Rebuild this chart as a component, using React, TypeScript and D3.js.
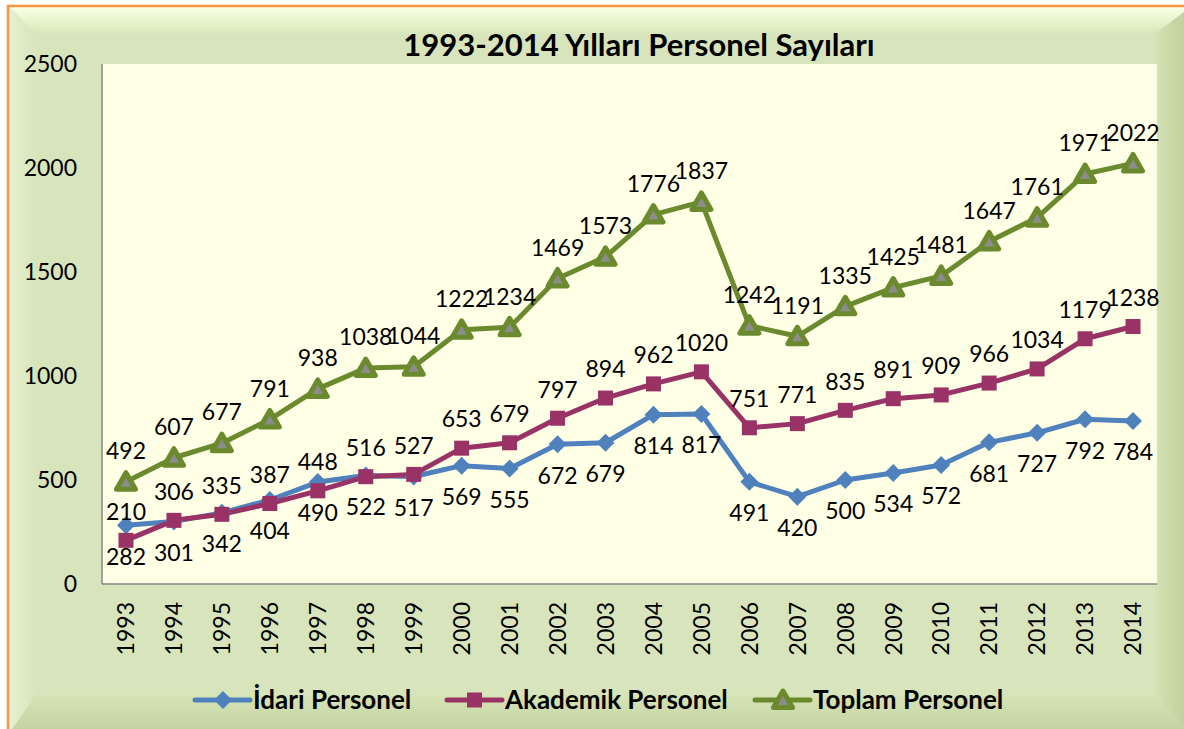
import * as d3 from 'd3'

const years = ['1993', '1994', '1995', '1996', '1997', '1998', '1999', '2000', '2001', '2002', '2003',
  '2004', '2005', '2006', '2007', '2008', '2009', '2010', '2011', '2012', '2013', '2014']
const idari = [282, 301, 342, 404, 490, 522, 517, 569, 555, 672, 679, 814, 817, 491, 420, 500, 534, 572, 681, 727, 792, 784]
const akademik = [210, 306, 335, 387, 448, 516, 527, 653, 679, 797, 894, 962, 1020, 751, 771, 835, 891, 909, 966, 1034, 1179, 1238]
const toplam = [492, 607, 677, 791, 938, 1038, 1044, 1222, 1234, 1469, 1573, 1776, 1837, 1242, 1191, 1335, 1425, 1481, 1647, 1761, 1971, 2022]
const yTicks = [0, 500, 1000, 1500, 2000, 2500]
const seriesNames = ['İdari Personel', 'Akademik Personel', 'Toplam Personel']

const W = 1184
const H = 729
const plot = { left: 102, right: 1157, top: 64, bottom: 584 }
const font = 'Lato, "Open Sans", sans-serif'

const BLUE = '#4f81bd'
const MAROON = '#993366'
const OLIVE = '#6b8a2e'

export default function App() {
  const x = d3.scaleBand<string>().domain(years).range([plot.left, plot.right])
  const y = d3.scaleLinear().domain([0, 2500]).range([plot.bottom, plot.top])
  const cx = (yr: string) => (x(yr) ?? 0) + x.bandwidth() / 2

  const line = (vals: number[]) =>
    d3.line<number>().x((_, i) => cx(years[i])).y((v) => y(v))(vals) || ''

  // frame geometry
  const o = { l: 8, t: 6, r: 1192, b: 735 }
  const i = { l: 36, t: 34, r: 1155, b: 695 }

  const diamond = (px: number, py: number, s: number) =>
    `M${px},${py - s}L${px + s},${py}L${px},${py + s}L${px - s},${py}Z`
  const tri = (px: number, py: number, s: number) =>
    `M${px},${py - s}L${px + s * 0.95},${py + s * 0.65}L${px - s * 0.95},${py + s * 0.65}Z`

  const legendItems = [
    { name: seriesNames[0], color: BLUE, x0: 195, kind: 'diamond' },
    { name: seriesNames[1], color: MAROON, x0: 447, kind: 'square' },
    { name: seriesNames[2], color: OLIVE, x0: 755, kind: 'tri' },
  ]
  const legendY = 700
  const lblSize = 23

  return (
    <svg width={W} height={H} style={{ position: 'fixed', left: 0, top: 0 }} fontFamily={font}>
      <defs>
        <linearGradient id="topBevel" x1="0" y1="0" x2="0" y2="1">
          <stop offset="0" stopColor="#fdffe6" />
          <stop offset="0.5" stopColor="#e9f6cf" />
          <stop offset="1" stopColor="#d8e6bb" />
        </linearGradient>
        <linearGradient id="leftBevel" x1="0" y1="0" x2="1" y2="0">
          <stop offset="0" stopColor="#e6f2d0" />
          <stop offset="1" stopColor="#d8e4bb" />
        </linearGradient>
        <linearGradient id="rightBevel" x1="0" y1="0" x2="1" y2="0">
          <stop offset="0" stopColor="#d4e2b4" />
          <stop offset="1" stopColor="#bccb98" />
        </linearGradient>
        <linearGradient id="bottomBevel" x1="0" y1="0" x2="0" y2="1">
          <stop offset="0" stopColor="#d6e4b6" />
          <stop offset="1" stopColor="#c1d09f" />
        </linearGradient>
      </defs>
      <rect x={0} y={0} width={W} height={H} fill="#ffffff" />
      {/* bevelled frame */}
      <rect x={o.l} y={o.t} width={o.r - o.l} height={o.b - o.t} fill="#d8e4bc" />
      <path d={`M${o.l},${o.t}L${o.r},${o.t}L${i.r},${i.t}L${i.l},${i.t}Z`} fill="url(#topBevel)" />
      <path d={`M${o.l},${o.t}L${i.l},${i.t}L${i.l},${i.b}L${o.l},${o.b}Z`} fill="url(#leftBevel)" />
      <path d={`M${o.r},${o.t}L${o.r},${o.b}L${i.r},${i.b}L${i.r},${i.t}Z`} fill="url(#rightBevel)" />
      <path d={`M${o.l},${o.b}L${i.l},${i.b}L${i.r},${i.b}L${o.r},${o.b}Z`} fill="url(#bottomBevel)" />
      <rect x={o.l} y={o.t} width={o.r - o.l} height={o.b - o.t} fill="none" stroke="#f79646" strokeWidth={2.5} />

      {/* title */}
      <text x={639} y={56} textAnchor="middle" fontSize={31} fontWeight="bold" fill="#000">
        1993-2014 Yılları Personel Sayıları
      </text>

      {/* plot area */}
      <rect x={plot.left} y={plot.top} width={plot.right - plot.left} height={plot.bottom - plot.top} fill="#ffffe6" />
      <line x1={plot.left} x2={plot.left} y1={plot.top} y2={plot.bottom} stroke="#868686" strokeWidth={1.5} />
      <line x1={plot.left} x2={plot.right} y1={plot.bottom} y2={plot.bottom} stroke="#868686" strokeWidth={1.5} />

      {yTicks.map((t) => (
        <text key={t} x={77} y={y(t)} dy="0.36em" textAnchor="end" fontSize={lblSize} fill="#000">
          {t}
        </text>
      ))}
      {years.map((yr) => (
        <text
          key={yr}
          transform={`translate(${cx(yr)},${602}) rotate(-90)`}
          textAnchor="end"
          dy="0.36em"
          fontSize={lblSize}
          fill="#000"
        >
          {yr}
        </text>
      ))}

      {/* lines */}
      <path d={line(idari)} fill="none" stroke={BLUE} strokeWidth={5} strokeLinejoin="round" />
      <path d={line(akademik)} fill="none" stroke={MAROON} strokeWidth={5} strokeLinejoin="round" />
      <path d={line(toplam)} fill="none" stroke={OLIVE} strokeWidth={5} strokeLinejoin="round" />

      {idari.map((v, k) => (
        <path key={'i' + k} d={diamond(cx(years[k]), y(v), 9)} fill={BLUE} />
      ))}
      {akademik.map((v, k) => (
        <rect key={'a' + k} x={cx(years[k]) - 7.5} y={y(v) - 7.5} width={15} height={15} fill={MAROON} />
      ))}
      {toplam.map((v, k) => (
        <path
          key={'t' + k}
          d={tri(cx(years[k]), y(v) + 1, 10)}
          fill="#8c8c8c"
          stroke={OLIVE}
          strokeWidth={5}
          strokeLinejoin="round"
        />
      ))}

      {/* data labels */}
      {idari.map((v, k) => (
        <text key={'li' + k} x={cx(years[k])} y={y(v) + 31} dy="0.36em" textAnchor="middle" fontSize={lblSize} fill="#000">
          {v}
        </text>
      ))}
      {akademik.map((v, k) => (
        <text key={'la' + k} x={cx(years[k])} y={y(v) - 29} dy="0.36em" textAnchor="middle" fontSize={lblSize} fill="#000">
          {v}
        </text>
      ))}
      {toplam.map((v, k) => (
        <text key={'lt' + k} x={cx(years[k])} y={y(v) - 31} dy="0.36em" textAnchor="middle" fontSize={lblSize} fill="#000">
          {v}
        </text>
      ))}

      {/* legend */}
      {legendItems.map((it) => (
        <g key={it.name}>
          <line x1={it.x0} x2={it.x0 + 55} y1={legendY} y2={legendY} stroke={it.color} strokeWidth={5} strokeLinecap="round" />
          {it.kind === 'diamond' && <path d={diamond(it.x0 + 28, legendY, 9)} fill={it.color} />}
          {it.kind === 'square' && <rect x={it.x0 + 20} y={legendY - 7.5} width={15} height={15} fill={it.color} />}
          {it.kind === 'tri' && (
            <path d={tri(it.x0 + 28, legendY + 1, 10)} fill="#8c8c8c" stroke={it.color} strokeWidth={5} strokeLinejoin="round" />
          )}
          <text x={it.x0 + 58} y={legendY} dy="0.36em" fontSize={26} fontWeight="bold" fill="#000">
            {it.name}
          </text>
        </g>
      ))}
    </svg>
  )
}
